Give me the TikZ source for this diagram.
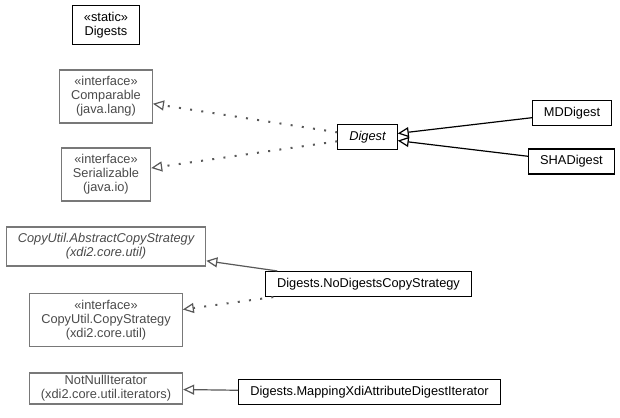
\documentclass[tikz,border=0pt]{standalone}
\usepackage{fontspec}
\setmainfont{Liberation Sans}
\usetikzlibrary{positioning,arrows.meta}
\definecolor{extline}{HTML}{787878}
\definecolor{exttext}{HTML}{4A4A4A}
\definecolor{extarrow}{HTML}{585858}
\begin{document}
\begin{tikzpicture}[
    cls/.style={draw, line width=1.2pt, inner xsep=11.5pt, inner ysep=6.5pt, align=center,
      minimum height=24pt, font=\fontsize{12.8}{14}\selectfont},
    extcls/.style={cls, draw=extline, text=exttext},
    extends/.style={-{Triangle[open,length=11pt,width=10pt,line width=1.2pt]}, line width=1.2pt},
    realizes/.style={extends, line width=2pt, dash pattern=on 2pt off 9.3pt, draw=extarrow}
  ]
        \useasboundingbox (-106pt,25pt) rectangle (514pt,-392pt);
        \node [cls] (Digests) {«static»\\Digests};
        \node [extcls, on grid, below=71.5pt of Digests] (Comparable) {«interface»\\Comparable\\(java.lang)};
        \node [extcls, on grid, below=78pt of Comparable] (Serializable) {«interface»\\Serializable\\(java.io)};
        \node [cls, on grid, below right=40.5pt and 261.5pt of Comparable, font=\fontsize{12.8}{14}\selectfont\itshape] (Digest) {Digest};
        \node [cls, on grid, above right=24pt and 204.5pt of Digest] (MD) {MDDigest};
        \node [cls, on grid, below right=24.5pt and 204pt of Digest] (SHA) {SHADigest};
        \node [extcls, on grid, below=72pt of Serializable, font=\fontsize{12.8}{14}\selectfont\itshape] (AbstractCopy) {CopyUtil.AbstractCopyStrategy\\(xdi2.core.util)};
        \node [extcls, on grid, below=73.5pt of AbstractCopy] (CopyStrat) {«interface»\\CopyUtil.CopyStrategy\\(xdi2.core.util)};
        \node [extcls, on grid, below=68.5pt of CopyStrat, inner ysep=2.5pt] (NotNull) {NotNullIterator\\(xdi2.core.util.iterators)};
        \node [cls, on grid, below right=37.5pt and 262.5pt of AbstractCopy] (NoDigests) {Digests.NoDigestsCopyStrategy};
        \node [cls, on grid, below right=3.5pt and 263.5pt of NotNull] (Mapping) {Digests.MappingXdiAttributeDigestIterator};
        \draw [realizes] (Digest) to (Comparable);
        \draw [realizes] (Digest) to (Serializable);
        \draw [extends] (MD) to (Digest);
        \draw [extends] (SHA) to (Digest);
        \draw [extends, draw=extarrow] (NoDigests) to (AbstractCopy);
        \draw [realizes] (NoDigests) to (CopyStrat);
        \draw [extends, draw=extarrow] (Mapping) to (NotNull);
      \end{tikzpicture}
\end{document}
